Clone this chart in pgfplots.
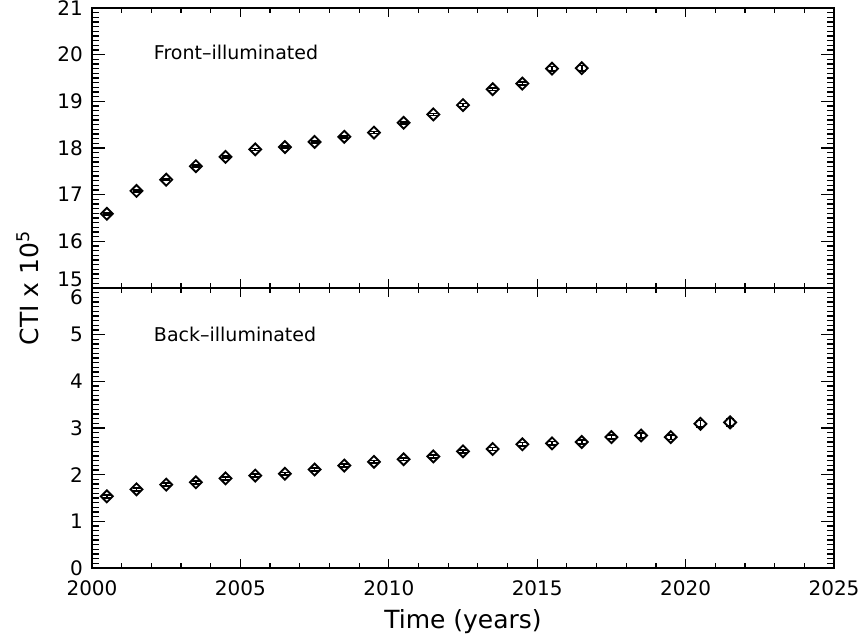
\documentclass[border=0pt]{standalone}
\usepackage{fontspec}
\setmainfont{DejaVu Sans}
\usepackage{pgfplots}
\pgfplotsset{compat=1.18}
\usepackage{pgfplotstable}

\pgfplotstableread{
x y e
2000.5 16.59 0.02
2001.5 17.08 0.02
2002.5 17.32 0.02
2003.5 17.61 0.02
2004.5 17.81 0.02
2005.5 17.97 0.02
2006.5 18.02 0.02
2007.5 18.13 0.02
2008.5 18.24 0.02
2009.5 18.33 0.02
2010.5 18.54 0.02
2011.5 18.72 0.02
2012.5 18.92 0.03
2013.5 19.26 0.03
2014.5 19.38 0.03
2015.5 19.70 0.05
2016.5 19.71 0.06
}\fidata

\pgfplotstableread{
x y e
2000.5 1.535 0.03
2001.5 1.686 0.03
2002.5 1.786 0.03
2003.5 1.836 0.03
2004.5 1.920 0.03
2005.5 1.980 0.03
2006.5 2.020 0.03
2007.5 2.110 0.03
2008.5 2.195 0.03
2009.5 2.274 0.03
2010.5 2.330 0.03
2011.5 2.390 0.03
2012.5 2.500 0.03
2013.5 2.550 0.03
2014.5 2.650 0.04
2015.5 2.670 0.04
2016.5 2.700 0.04
2017.5 2.805 0.04
2018.5 2.840 0.05
2019.5 2.805 0.05
2020.5 3.090 0.07
2021.5 3.120 0.08
}\bidata

\pgfplotsset{
  ctiaxis/.style={
    scale only axis,
    width=371pt, height=140pt,
    xmin=2000, xmax=2025,
    xtick={2000,2005,...,2025},
    minor xtick={2001,2002,2003,2004,2006,2007,2008,2009,2011,2012,2013,2014,2016,2017,2018,2019,2021,2022,2023,2024},
    axis line style={line width=0.9pt},
    major tick length=6.5pt,
    minor tick length=3.5pt,
    tick style={black, line width=0.6pt},
    xtick style={/pgfplots/major tick length=4.5pt},
    minor x tick style={/pgfplots/minor tick length=2.5pt},
    /pgf/number format/assume math mode=true,
    /pgf/number format/1000 sep={},
    tick label style={font=\fontsize{10}{12}\selectfont},
    yticklabel style={xshift=-1pt},
    xticklabel style={yshift=-3pt},
    every axis plot/.append style={black, line width=0.8pt},
  },
  ctimark/.style={
    only marks, mark=square, mark size=2.1pt,
    mark options={rotate=45, solid, line width=0.95pt},
    error bars/.cd, y dir=both, y explicit,
    error bar style={line width=0.8pt},
    error mark options={rotate=90, mark size=2pt, line width=0.8pt},
  },
}

\begin{document}
\begin{tikzpicture}
\begin{axis}[ctiaxis, name=top,
  ymin=15, ymax=21,
  ytick={16,...,21},
  minor ytick={15.1,15.2,...,20.95},
  extra y ticks={15},
  extra y tick style={yticklabel style={yshift=4.5pt}},
  xticklabels={},
]
\addplot[ctimark] table[x=x,y=y,y error=e] {\fidata};
\node[anchor=west, font=\fontsize{9.5}{11}\selectfont] at (axis cs:2001.85,20.05) {Front--illuminated};
\end{axis}
\begin{axis}[ctiaxis, name=bot,
  at={(top.south west)}, anchor=north west,
  ymin=0, ymax=6,
  ytick={0,...,5},
  minor ytick={0.1,0.2,...,5.95},
  extra y ticks={6},
  extra y tick style={yticklabel style={yshift=-4.5pt}},
  xlabel={Time (years)},
  xlabel style={font=\fontsize{12.5}{14}\selectfont, yshift=0pt},
]
\addplot[ctimark] table[x=x,y=y,y error=e] {\bidata};
\node[anchor=west, font=\fontsize{9.5}{11}\selectfont] at (axis cs:2001.85,5.0) {Back--illuminated};
\end{axis}
\node[rotate=90, font=\fontsize{12.5}{14}\selectfont] at ([xshift=-32pt]top.south west) {CTI x 10\textsuperscript{5}};
\pgfresetboundingbox
\path[use as bounding box] ([shift={(-46pt,4pt)}]top.north west) rectangle ([shift={(13pt,-34pt)}]bot.south east);
\end{tikzpicture}
\end{document}
